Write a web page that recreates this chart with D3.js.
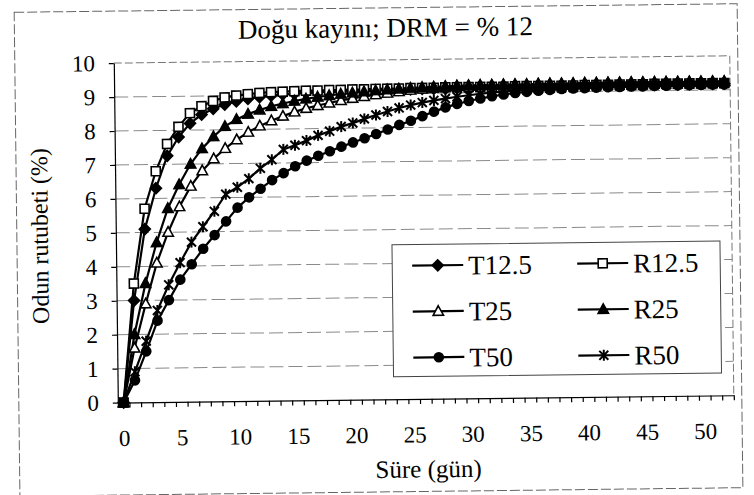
<!DOCTYPE html>
<html><head><meta charset="utf-8">
<script src="https://cdn.jsdelivr.net/npm/d3@7"></script>
<style>
body{margin:0;background:#fff}svg{display:block}
svg text{font-family:"Liberation Serif","Times New Roman","DejaVu Serif",serif;fill:#000}
</style>
</head><body>
<svg id="chart" width="754" height="495"></svg>
<script>
// ---- data ----
const days = d3.range(0, 53);
const xTickLabels = [0, 5, 10, 15, 20, 25, 30, 35, 40, 45, 50];
const yTickLabels = [0, 1, 2, 3, 4, 5, 6, 7, 8, 9, 10];
const seriesNames = ["T12.5", "R12.5", "T25", "R25", "T50", "R50"];

const T12_5 = [0, 3.0, 5.1, 6.3, 7.25, 7.8, 8.2, 8.45, 8.62, 8.74, 8.83, 8.9, 8.95, 8.99, 9.02, 9.04, 9.06, 9.07, 9.08, 9.09, 9.1,
  9.1, 9.11, 9.11, 9.12, 9.12, 9.13, 9.13, 9.13, 9.14, 9.14,
  9.14, 9.15, 9.15, 9.15, 9.15, 9.15, 9.16, 9.16, 9.16, 9.16,
  9.16, 9.16, 9.17, 9.17, 9.17, 9.17, 9.17, 9.17, 9.18, 9.18, 9.18, 9.18];
const R12_5 = [0, 3.5, 5.7, 6.8, 7.6, 8.1, 8.5, 8.7, 8.85, 8.95, 9.0, 9.04, 9.07, 9.09, 9.1, 9.11, 9.12, 9.12, 9.13, 9.13, 9.14,
  9.14, 9.15, 9.15, 9.15, 9.16, 9.16, 9.16, 9.17, 9.17, 9.17,
  9.17, 9.17, 9.17, 9.18, 9.18, 9.18, 9.18, 9.18, 9.18, 9.19,
  9.19, 9.19, 9.19, 9.19, 9.19, 9.2, 9.2, 9.2, 9.2, 9.2, 9.2, 9.2];
const T25 = [0, 1.6, 2.9, 4.1, 5.0, 5.75, 6.35, 6.8, 7.15, 7.45, 7.7, 7.92, 8.1, 8.25, 8.38, 8.5, 8.6, 8.68, 8.75, 8.82, 8.88,
  8.93, 8.98, 9.02, 9.06, 9.1, 9.13, 9.16, 9.18, 9.2, 9.21,
  9.22, 9.22, 9.23, 9.23, 9.23, 9.24, 9.24, 9.24, 9.24, 9.25,
  9.25, 9.25, 9.25, 9.25, 9.25, 9.25, 9.25, 9.25, 9.25, 9.25, 9.25, 9.25];
const R25 = [0, 2.0, 3.5, 4.7, 5.7, 6.4, 7.0, 7.45, 7.8, 8.1, 8.3, 8.45, 8.57, 8.67, 8.75, 8.82, 8.88, 8.93, 8.97, 9.01, 9.04,
  9.07, 9.1, 9.12, 9.14, 9.16, 9.18, 9.19, 9.2, 9.21, 9.21,
  9.21, 9.22, 9.22, 9.22, 9.22, 9.23, 9.23, 9.23, 9.23, 9.23,
  9.23, 9.24, 9.24, 9.24, 9.24, 9.24, 9.24, 9.24, 9.24, 9.24, 9.24, 9.24];
const T50 = [0, 0.65, 1.5, 2.4, 3.0, 3.6, 4.05, 4.5, 4.9, 5.3, 5.7, 6.0, 6.25, 6.5, 6.7, 6.9, 7.06, 7.2, 7.33, 7.46, 7.58,
  7.7, 7.82, 7.95, 8.08, 8.2, 8.33, 8.46, 8.58, 8.68, 8.76,
  8.83, 8.89, 8.94, 8.98, 9.01, 9.04, 9.06, 9.08, 9.09, 9.1,
  9.11, 9.12, 9.12, 9.13, 9.13, 9.14, 9.14, 9.15, 9.15, 9.15, 9.16, 9.16];
const R50 = [0, 0.9, 1.8, 2.7, 3.45, 4.1, 4.7, 5.15, 5.6, 6.1, 6.3, 6.55, 6.85, 7.1, 7.4, 7.52, 7.65, 7.8, 7.92, 8.05, 8.15,
  8.27, 8.38, 8.48, 8.58, 8.66, 8.73, 8.79, 8.84, 8.89, 8.93,
  8.97, 9.0, 9.03, 9.05, 9.07, 9.09, 9.1, 9.11, 9.12, 9.13,
  9.14, 9.15, 9.15, 9.16, 9.16, 9.17, 9.17, 9.18, 9.18, 9.18, 9.19, 9.19];

// ---- layout ----
const W = 754, H = 495;
const plot = {left: 116, right: 732, top: 60, bottom: 399.5};

const svg = d3.select("#chart");
svg.append("rect").attr("width", W).attr("height", H).attr("fill", "#fff");
const root = svg.append("g").attr("transform", "rotate(-0.68, 377, 247)");

// outer chart border
root.append("rect").attr("x", 17).attr("y", 8).attr("width", 723).attr("height", 484)
  .attr("fill", "none").attr("stroke", "#666").attr("stroke-width", 1).attr("stroke-dasharray", "10,3");

const x = d3.scaleLinear().domain([-0.5, 52.5]).range([plot.left, plot.right]);
const y = d3.scaleLinear().domain([0, 10]).range([plot.bottom, plot.top]);

// gridlines
root.append("g").selectAll("line").data(yTickLabels.filter(v => v > 0 && v < 10)).join("line")
  .attr("x1", plot.left).attr("x2", plot.right)
  .attr("y1", d => y(d)).attr("y2", d => y(d))
  .attr("stroke", "#8a8a8a").attr("stroke-width", 1).attr("stroke-dasharray", "14,5");

// plot area border (top/right)
root.append("path")
  .attr("d", `M${plot.left},${plot.top}H${plot.right}V${plot.bottom}`)
  .attr("fill", "none").attr("stroke", "#777").attr("stroke-width", 1).attr("stroke-dasharray", "8,3");

// axes
const yAxis = root.append("g").attr("transform", `translate(${plot.left},0)`)
  .call(d3.axisLeft(y).tickValues(yTickLabels).tickFormat(d3.format("d")).tickSize(5).tickSizeOuter(0).tickPadding(14));
yAxis.attr("font-family", null).attr("font-size", null);
yAxis.selectAll("text").style("font-size", "23px");

const xMinor = root.append("g").attr("transform", `translate(0,${plot.bottom})`)
  .call(d3.axisBottom(x).tickValues(d3.range(-0.5, 53, 1)).tickSize(5).tickSizeOuter(0).tickFormat(""));
const xAxis = root.append("g").attr("transform", `translate(0,${plot.bottom})`)
  .call(d3.axisBottom(x).tickValues(xTickLabels).tickSize(0).tickSizeOuter(0).tickPadding(27).tickFormat(d3.format("d")));
xAxis.attr("font-family", null).attr("font-size", null);
xAxis.select(".domain").remove();
xAxis.selectAll("text").style("font-size", "23px");
root.selectAll(".domain, .tick line").attr("stroke", "#000").attr("stroke-width", 1.2);

// titles
root.append("text").attr("x", 388).attr("y", 37).attr("text-anchor", "middle")
  .style("font-size", "27px").text("Doğu kayını; DRM = % 12");
root.append("text").attr("x", 426).attr("y", 478).attr("text-anchor", "middle")
  .style("font-size", "25px").text("Süre (gün)");
root.append("text").attr("transform", "translate(48,232) rotate(-90)").attr("text-anchor", "middle")
  .style("font-size", "24px").text("Odun rutubeti (%)");

// markers
const markerPaths = {
  diamond: "M0,-5.5L5.5,0L0,5.5L-5.5,0Z",
  square: "M-4.5,-4.5H4.5V4.5H-4.5Z",
  triangle: "M0,-5.5L5.2,4L-5.2,4Z",
  circle: d3.symbol(d3.symbolCircle, 64)(),
  star: "M-4.5,-4.5L4.5,4.5M-4.5,4.5L4.5,-4.5M0,-5.5V5.5"
};
const series = [
  {name: seriesNames[0], values: T12_5, m: "diamond", fill: "#000"},
  {name: seriesNames[1], values: R12_5, m: "square", fill: "#fff"},
  {name: seriesNames[2], values: T25, m: "triangle", fill: "#fff"},
  {name: seriesNames[3], values: R25, m: "triangle", fill: "#000"},
  {name: seriesNames[4], values: T50, m: "circle", fill: "#000"},
  {name: seriesNames[5], values: R50, m: "star", fill: "none"}
];

const line = d3.line().x((d, i) => x(days[i])).y(d => y(d));
const plotG = root.append("g");
series.forEach(s => {
  plotG.append("path").datum(s.values).attr("d", line)
    .attr("fill", "none").attr("stroke", "#000").attr("stroke-width", 2.2);
});
series.forEach(s => {
  plotG.append("g").selectAll("path").data(s.values).join("path")
    .attr("transform", (d, i) => `translate(${x(days[i])},${y(d)})`)
    .attr("d", markerPaths[s.m])
    .attr("fill", s.fill).attr("stroke", "#000").attr("stroke-width", s.m === "star" ? 2 : 1.6);
});

// legend
const lg = root.append("g");
lg.append("rect").attr("x", 392).attr("y", 245).attr("width", 328).attr("height", 132)
  .attr("fill", "#fff").attr("stroke", "#444").attr("stroke-width", 1);
const colX = [412, 577], rowY = [266, 312, 358];
series.forEach((s, i) => {
  const cx = colX[i % 2], cy = rowY[Math.floor(i / 2)];
  const g = lg.append("g").attr("transform", `translate(${cx},${cy})`);
  g.append("line").attr("x1", 0).attr("x2", 51).attr("y1", 0).attr("y2", 0)
    .attr("stroke", "#000").attr("stroke-width", 2.2);
  g.append("path").attr("transform", "translate(25.5,0)").attr("d", markerPaths[s.m])
    .attr("fill", s.fill).attr("stroke", "#000").attr("stroke-width", s.m === "star" ? 2 : 1.6);
  g.append("text").attr("x", 56).attr("y", 9.5).style("font-size", "27px").text(s.name);
});
</script>
</body></html>
